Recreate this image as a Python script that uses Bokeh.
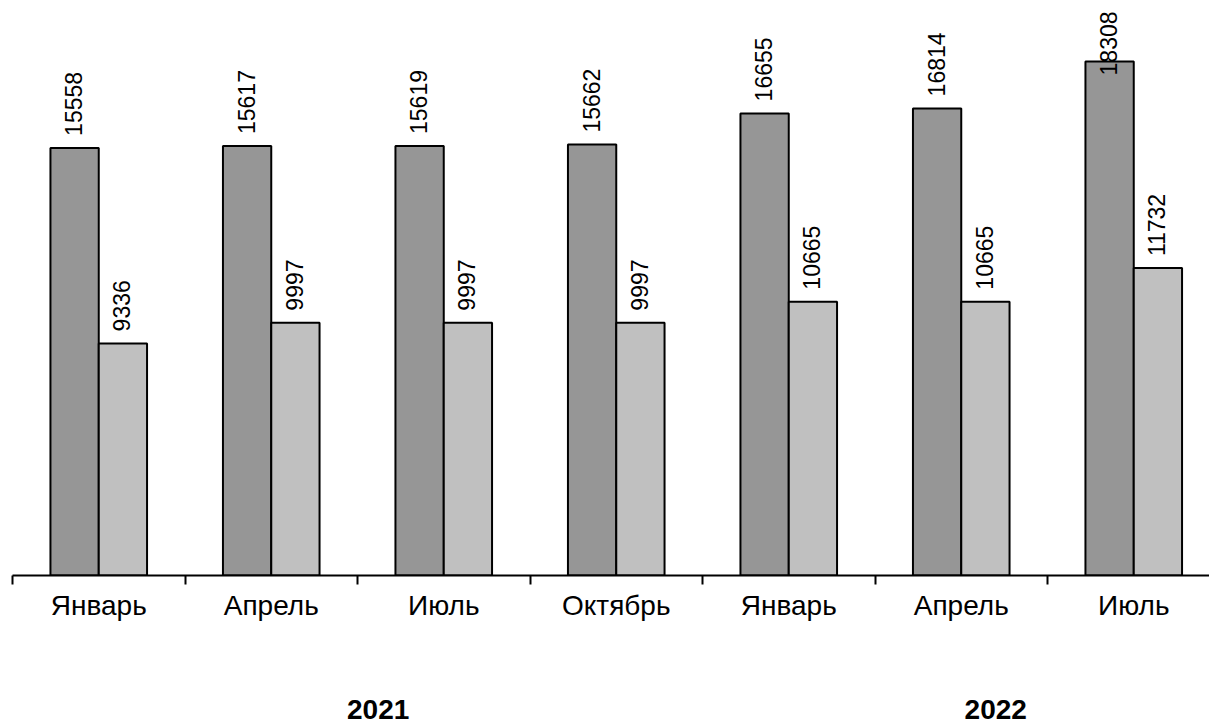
import math
from bokeh.plotting import figure
from bokeh.models import Range1d, FixedTicker, LinearAxis, ColumnDataSource
from bokeh.core.properties import value
from bokeh.embed import file_html
from bokeh.resources import INLINE

months = ["Январь", "Апрель", "Июль", "Октябрь", "Январь", "Апрель", "Июль"]
series_a = [15558, 15617, 15619, 15662, 16655, 16814, 18308]
series_b = [9336, 9997, 9997, 9997, 10665, 10665, 11732]
years = ["2021", "2022"]

# layout constants
year_x = [2.12, 5.70]          # year label positions in category units
Y0, Y1 = 1950, 20248
W, H = 1209, 724
LEFT, BOTTOM = 12, 149
FRAME_H = H - BOTTOM
FONT = "Liberation Sans"
FS = "23px"
BAR_W = 0.28

n = len(months)
cat_px = 172.5
x_end = (W - LEFT) / cat_px

p = figure(width=W, height=H, output_backend="svg", toolbar_location=None,
           x_range=Range1d(0, x_end), y_range=Range1d(Y0, Y1),
           min_border_left=LEFT, min_border_right=0, min_border_top=0,
           min_border_bottom=BOTTOM, x_axis_type=None, y_axis_type=None)
p.outline_line_color = None
p.grid.visible = False
p.background_fill_color = "white"

centers = [i + 0.5 for i in range(n)]
xa = [c - BAR_W / 2 for c in centers]
xb = [c + BAR_W / 2 for c in centers]

p.vbar(x=xa, top=series_a, bottom=Y0, width=BAR_W, fill_color="#969696",
       line_color="black", line_width=2)
p.vbar(x=xb, top=series_b, bottom=Y0, width=BAR_W, fill_color="#C0C0C0",
       line_color="black", line_width=2)

# data labels (rotated), clamped to the top of the plot if they would overflow
scale = FRAME_H / (Y1 - Y0)
GAP, LEN = 12, 62
norm = dict(x=[], y=[], t=[])
clamp = dict(x=[], y=[], t=[])
for xs, vals in ((xa, series_a), (xb, series_b)):
    for x, v in zip(xs, vals):
        if v + (GAP + LEN) / scale > Y1:
            clamp["x"].append(x); clamp["y"].append(Y1); clamp["t"].append(str(v))
        else:
            norm["x"].append(x); norm["y"].append(v); norm["t"].append(str(v))

p.text(x="x", y="y", text="t", source=ColumnDataSource(norm), angle=math.pi / 2,
       text_align="left", text_baseline="middle", y_offset=-GAP, x_offset=-1,
       text_font=value(FONT), text_font_size=FS, text_color="black")
p.text(x="x", y="y", text="t", source=ColumnDataSource(clamp), angle=math.pi / 2,
       text_align="right", text_baseline="middle", y_offset=11, x_offset=-1,
       text_font=value(FONT), text_font_size=FS, text_color="black")

# month axis
ax = LinearAxis(ticker=FixedTicker(ticks=centers, minor_ticks=list(range(n))))
ax.major_label_overrides = {c: m for c, m in zip(centers, months)}
ax.axis_line_color = "black"
ax.axis_line_width = 2
ax.major_tick_line_color = None
ax.major_tick_out = 0
ax.major_tick_in = 0
ax.minor_tick_line_color = "black"
ax.minor_tick_line_width = 2
ax.minor_tick_out = 9
ax.minor_tick_in = 0
ax.major_label_text_font = FONT
ax.major_label_text_font_size = "28px"
ax.major_label_text_color = "black"
ax.major_label_standoff = 5
p.add_layout(ax, "below")

# year axis (labels only)
ay = LinearAxis(ticker=FixedTicker(ticks=year_x, minor_ticks=[]))
ay.major_label_overrides = {c: y for c, y in zip(year_x, years)}
ay.axis_line_color = None
ay.major_tick_line_color = None
ay.minor_tick_line_color = None
ay.major_tick_out = 0
ay.major_tick_in = 0
ay.minor_tick_out = 0
ay.minor_tick_in = 0
ay.major_label_text_font = FONT
ay.major_label_text_font_size = "28px"
ay.major_label_text_font_style = "bold"
ay.major_label_text_color = "black"
ay.major_label_standoff = 76
p.add_layout(ay, "below")

open("out.html", "w").write(file_html(p, INLINE))
